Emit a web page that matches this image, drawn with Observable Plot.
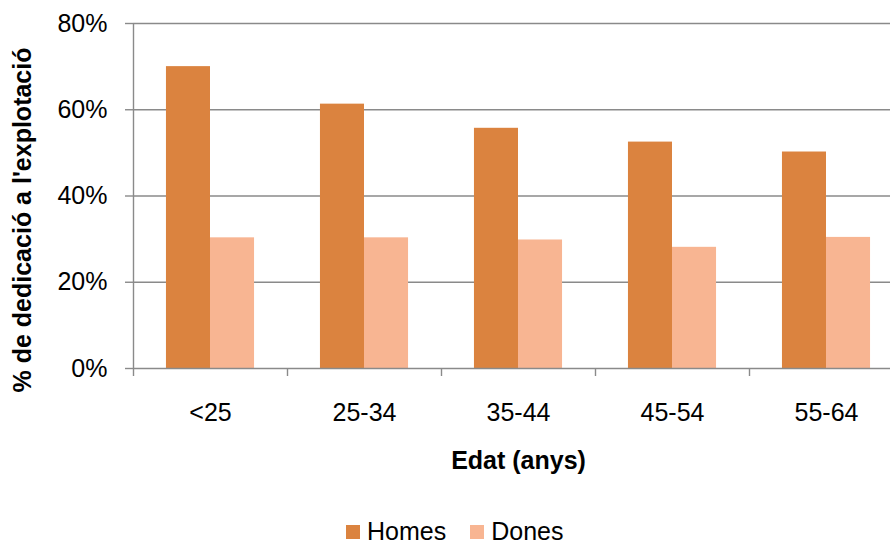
<!DOCTYPE html>
<html>
<head>
<meta charset="utf-8">
<script src="https://cdn.jsdelivr.net/npm/d3@7"></script>
<script src="https://cdn.jsdelivr.net/npm/@observablehq/plot@0.6"></script>
<style>
  html, body { margin: 0; padding: 0; background: #fff; overflow: hidden; }
  #wrap { position: relative; width: 890px; height: 545px; overflow: hidden; font-family: "Liberation Sans", Arial, sans-serif; }
  #wrap svg { max-width: none !important; }
  #legend { position: absolute; left: 346px; top: 517px; display: flex; align-items: center; font-size: 25px; color: #000; }
  .sw { width: 14px; height: 14px; display: inline-block; margin-right: 7px; }
  .item { display: flex; align-items: center; margin-right: 24px; }
</style>
</head>
<body>
<div id="wrap"></div>
<script>
const ages = ["<25", "25-34", "35-44", "45-54", "55-64"];
const homes = [70.0, 61.3, 55.7, 52.5, 50.2];
const dones = [30.3, 30.3, 29.8, 28.1, 30.4];
const yTicks = [0, 20, 40, 60, 80];
const seriesNames = ["Homes", "Dones"];
const colors = ["#DB833F", "#F8B592"];

const rows = [];
ages.forEach((a, i) => {
  rows.push({age: a, i, sex: "Homes", value: homes[i]});
  rows.push({age: a, i, sex: "Dones", value: dones[i]});
});

const inner = 0.214; // bar group offset within category band (fraction)
const gridColor = "#8A8A8A";

const chart = Plot.plot({
  width: 903,
  height: 510,
  marginLeft: 133,
  marginRight: 0,
  marginTop: 23,
  marginBottom: 142,
  style: {fontFamily: "Liberation Sans, Arial, sans-serif", fontSize: "25px", color: "#000", background: "#fff", maxWidth: "none"},
  x: {type: "linear", domain: [0, ages.length], axis: null},
  y: {domain: [0, 80], axis: null},
  color: {domain: seriesNames, range: colors},
  marks: [
    Plot.ruleY(yTicks.filter(d => d > 0), {stroke: gridColor, strokeWidth: 1.4}),
    Plot.rectY(rows, {
      x1: d => d.sex === "Homes" ? d.i + inner : d.i + 0.5,
      x2: d => d.sex === "Homes" ? d.i + 0.5 : d.i + 1 - inner,
      y1: 0,
      y2: "value",
      fill: "sex"
    }),
    Plot.ruleY([0], {stroke: gridColor, strokeWidth: 1.4}),
    Plot.ruleX([0], {stroke: gridColor, strokeWidth: 1.4}),
    Plot.axisY({ticks: yTicks, tickFormat: d => d + "%", tickSize: 8, tickPadding: 18, stroke: gridColor, strokeWidth: 1.4, label: null, fontSize: 25}),
    Plot.axisX({ticks: d3.range(0, ages.length + 1), tickFormat: () => "", tickSize: 8, stroke: gridColor, strokeWidth: 1.4, label: null}),
    Plot.axisX({ticks: ages.map((a, i) => i + 0.5), tickFormat: d => ages[Math.floor(d)], tickSize: 0, tickPadding: 35, label: null, fontSize: 25}),
    Plot.text(["Edat (anys)"], {frameAnchor: "bottom", dy: 100, fontWeight: "bold", fontSize: 25}),
    Plot.text(["% de dedicació a l'explotació"], {frameAnchor: "left", textAnchor: "middle", rotate: -90, dx: -111, dy: 24, fontWeight: "bold", fontSize: 25, style: "word-spacing: 5px"})
  ]
});

const wrap = document.getElementById("wrap");
wrap.appendChild(chart);
const legend = document.createElement("div");
legend.id = "legend";
seriesNames.forEach((s, k) => {
  const it = document.createElement("span");
  it.className = "item";
  const sw = document.createElement("span");
  sw.className = "sw";
  sw.style.background = colors[k];
  it.appendChild(sw);
  it.appendChild(document.createTextNode(s));
  legend.appendChild(it);
});
wrap.appendChild(legend);
</script>
</body>
</html>
